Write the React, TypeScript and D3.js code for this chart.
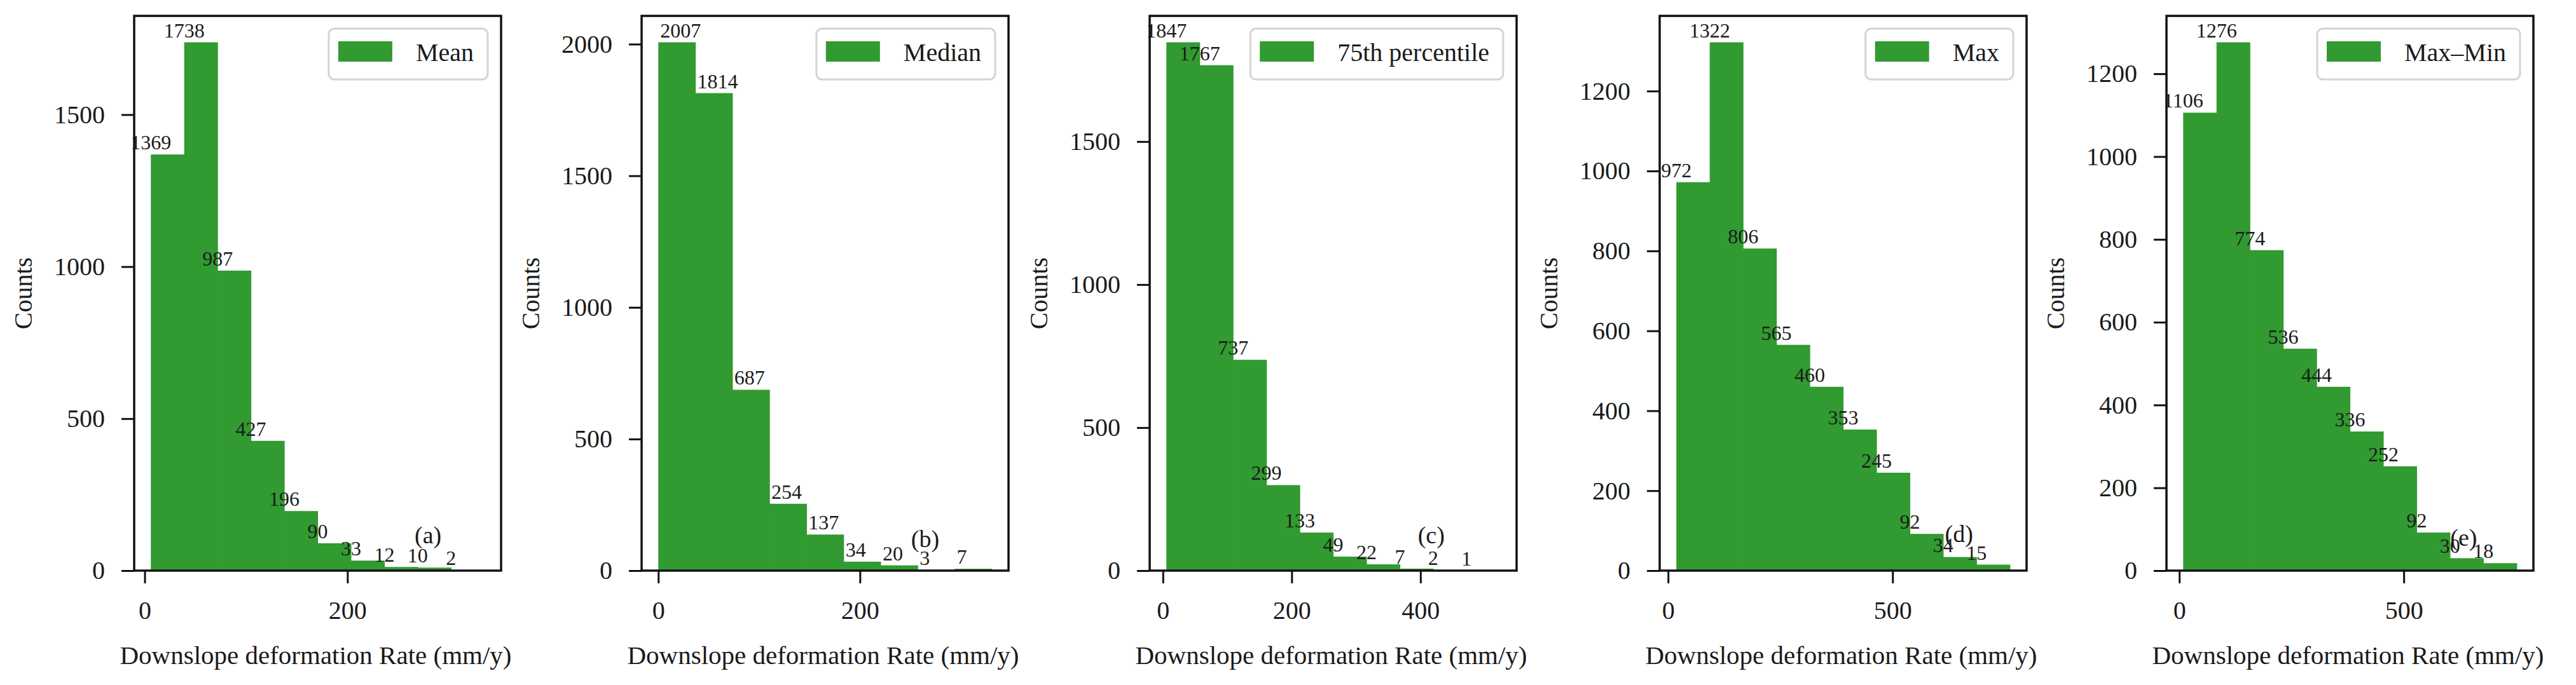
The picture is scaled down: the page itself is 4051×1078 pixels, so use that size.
import React, { useEffect, useRef } from 'react';
import * as d3 from 'd3';

// ---- data ----
const legendLabels = ['Mean', 'Median', '75th percentile', 'Max', 'Max\u2013Min'];
const panelTags = ['(a)', '(b)', '(c)', '(d)', '(e)'];

const meanCounts = [1369, 1738, 987, 427, 196, 90, 33, 12, 10, 2];
const medianCounts = [2007, 1814, 687, 254, 137, 34, 20, 3, 7];
const p75Counts = [1847, 1767, 737, 299, 133, 49, 22, 7, 2, 1];
const maxCounts = [972, 1322, 806, 565, 460, 353, 245, 92, 34, 15];
const rangeCounts = [1106, 1276, 774, 536, 444, 336, 252, 92, 30, 18];

// first bin edge and bin width (mm/y)
const binStarts = [6.1, 0, 5.4, 18.4, 8.6];
const binWidths = [32.9, 36.76, 51.8, 74.3, 74.3];

const xTickValues = [[0, 200], [0, 200], [0, 200, 400], [0, 500], [0, 500]];
const yTickValues = [
  [0, 500, 1000, 1500],
  [0, 500, 1000, 1500, 2000],
  [0, 500, 1000, 1500],
  [0, 200, 400, 600, 800, 1000, 1200],
  [0, 200, 400, 600, 800, 1000, 1200],
];
// tag positions in data coordinates (x in mm/y, y in counts)
const tagX = [279.5, 264.7, 416.8, 648, 633.5];
const tagY = [117, 121, 124, 92, 81];

const xLabel = 'Downslope deformation Rate (mm/y)';
const yLabel = 'Counts';

// ---- layout / style ----
const panelLefts = [211, 1009, 1808, 2610, 3407];
const PW = 577;
const TOP = 25;
const BOTTOM = 898;
const GREEN = '#319a31';
const FONT = '"Liberation Serif", "Times New Roman", Times, serif';
const labelAnchors = ['middle', 'start', 'middle', 'middle', 'middle'];
const TEXT = '#1a1a1a';

export default function App() {
  const ref = useRef<SVGSVGElement>(null);

  useEffect(() => {
    const svg = d3.select(ref.current);
    svg.selectAll('*').remove();
    const allCounts = [meanCounts, medianCounts, p75Counts, maxCounts, rangeCounts];

    allCounts.forEach((counts, i) => {
      const left = panelLefts[i];
      const right = left + PW;
      const n = counts.length;
      const x0 = binStarts[i];
      const w = binWidths[i];
      const x1 = x0 + n * w;
      const pad = (x1 - x0) * 0.05;
      const x = d3.scaleLinear().domain([x0 - pad, x1 + pad]).range([left, right]);
      const ymax = (d3.max(counts) as number) * 1.05;
      const y = d3.scaleLinear().domain([0, ymax]).range([BOTTOM, TOP]);

      const g = svg.append('g');

      // bars
      g.selectAll('rect.bar')
        .data(counts)
        .join('rect')
        .attr('class', 'bar')
        .attr('x', (_d, j) => x(x0 + j * w))
        .attr('width', (_d, j) => x(x0 + (j + 1) * w) - x(x0 + j * w) + 0.6)
        .attr('y', (d) => y(d))
        .attr('height', (d) => y(0) - y(d))
        .attr('fill', GREEN);

      // bar labels
      const anchor = labelAnchors[i];
      g.selectAll('text.cnt')
        .data(counts)
        .join('text')
        .attr('class', 'cnt')
        .attr('x', (_d, j) => x(x0 + j * w) + (anchor === 'start' ? 3 : 0))
        .attr('y', (d) => y(d) - 8)
        .attr('text-anchor', anchor)
        .attr('font-family', FONT)
        .attr('font-size', 32)
        .attr('fill', TEXT)
        .text((d) => String(d));

      // axes
      const yAxis = d3.axisLeft(y).tickValues(yTickValues[i]).tickSize(20).tickPadding(26).tickFormat(d3.format('d'));
      const ya = g.append('g').attr('transform', `translate(${left},0)`).call(yAxis);
      ya.select('.domain').remove();
      ya.selectAll('line').attr('stroke', '#111').attr('stroke-width', 3);
      ya.selectAll('text').attr('font-family', FONT).attr('font-size', 40).attr('fill', TEXT);

      const xAxis = d3.axisBottom(x).tickValues(xTickValues[i]).tickSize(20).tickPadding(28).tickFormat(d3.format('d'));
      const xa = g.append('g').attr('transform', `translate(0,${BOTTOM})`).call(xAxis);
      xa.select('.domain').remove();
      xa.selectAll('line').attr('stroke', '#111').attr('stroke-width', 3);
      xa.selectAll('text').attr('font-family', FONT).attr('font-size', 40).attr('fill', TEXT);

      // frame
      g.append('rect')
        .attr('x', left)
        .attr('y', TOP)
        .attr('width', PW)
        .attr('height', BOTTOM - TOP)
        .attr('fill', 'none')
        .attr('stroke', '#111')
        .attr('stroke-width', 3.5);

      // axis titles
      g.append('text')
        .attr('x', (left + right) / 2 - 3)
        .attr('y', 1045)
        .attr('text-anchor', 'middle')
        .attr('font-family', FONT)
        .attr('font-size', 41)
        .attr('fill', TEXT)
        .text(xLabel);

      g.append('text')
        .attr('transform', `translate(${left - 161},${(TOP + BOTTOM) / 2}) rotate(-90)`)
        .attr('text-anchor', 'middle')
        .attr('font-family', FONT)
        .attr('font-size', 40)
        .attr('fill', TEXT)
        .text(yLabel);

      // panel tag
      g.append('text')
        .attr('x', x(tagX[i]))
        .attr('y', y(tagY[i]))
        .attr('dy', '0.35em')
        .attr('text-anchor', 'middle')
        .attr('font-family', FONT)
        .attr('font-size', 38)
        .attr('fill', TEXT)
        .text(panelTags[i]);

      // legend
      const lg = g.append('g');
      const lt = lg
        .append('text')
        .attr('font-family', FONT)
        .attr('font-size', 40)
        .attr('fill', TEXT)
        .text(legendLabels[i]);
      const tw = (lt.node() as SVGTextElement).getComputedTextLength();
      const boxW = 15 + 85 + 37 + tw + 22;
      const boxR = right - 21;
      const boxL = boxR - boxW;
      lg.insert('rect', 'text')
        .attr('x', boxL)
        .attr('y', TOP + 20)
        .attr('width', boxW)
        .attr('height', 80)
        .attr('rx', 9)
        .attr('fill', 'white')
        .attr('fill-opacity', 0.85)
        .attr('stroke', '#d4d4d4')
        .attr('stroke-width', 3);
      lg.insert('rect', 'text')
        .attr('x', boxL + 15)
        .attr('y', TOP + 40)
        .attr('width', 85)
        .attr('height', 32)
        .attr('fill', GREEN);
      lt.attr('x', boxL + 15 + 85 + 37).attr('y', TOP + 71);
    });
  }, []);

  return (
    <svg
      ref={ref}
      width={4051}
      height={1078}
      style={{ position: 'absolute', left: 0, top: 0, background: '#fff' }}
    />
  );
}
